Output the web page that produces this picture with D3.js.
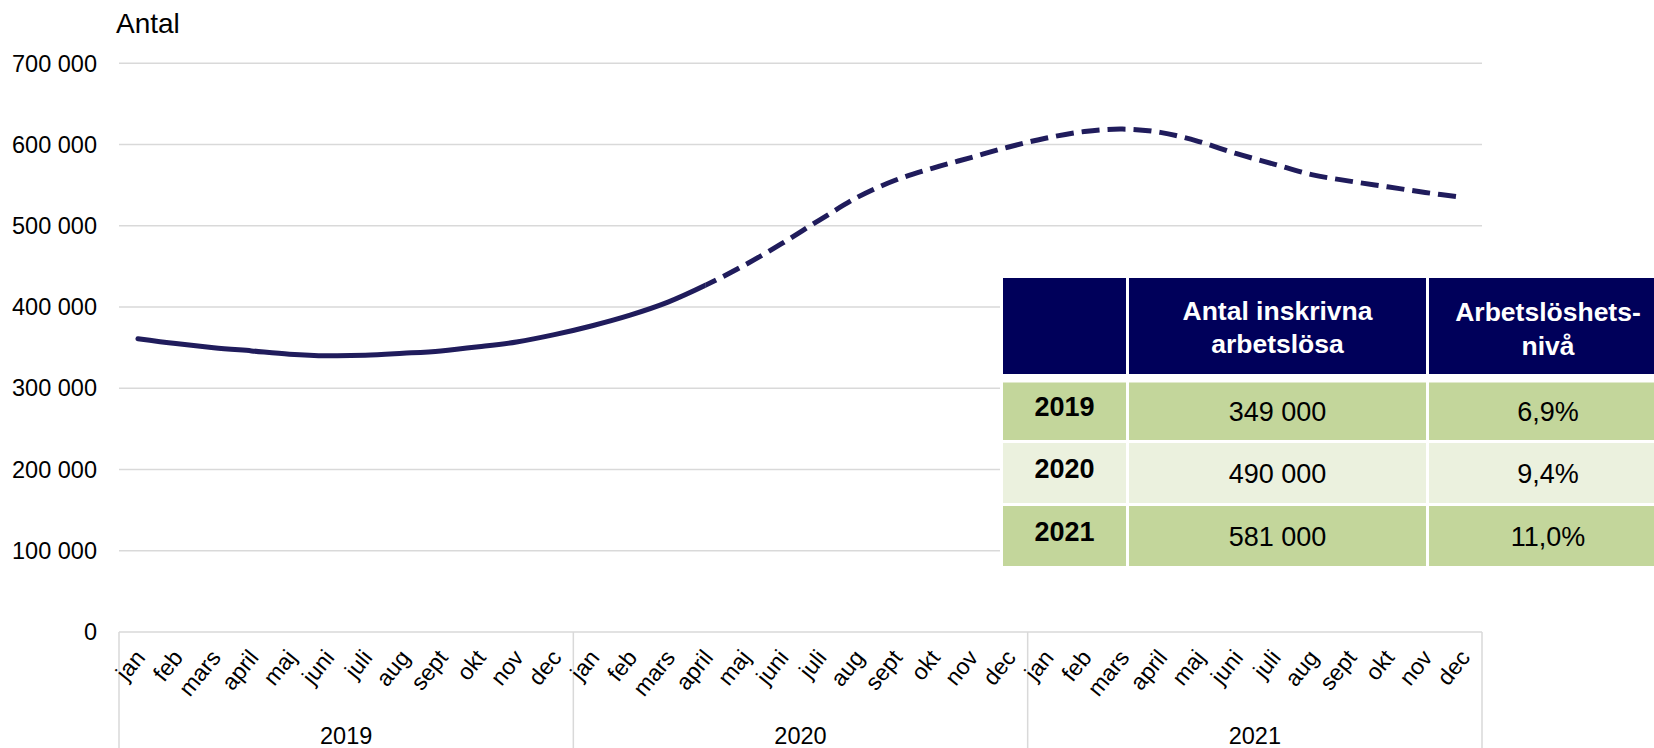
<!DOCTYPE html>
<html>
<head>
<meta charset="utf-8">
<script src="https://cdn.jsdelivr.net/npm/d3@7/dist/d3.min.js"></script>
<style>
  html, body { margin: 0; padding: 0; background: #fff; }
  svg { display: block; font-family: "Liberation Sans", Arial, sans-serif; }
</style>
</head>
<body>
<svg id="chart" width="1654" height="748"></svg>
<script>
// ---- data ----
const months = ["jan","feb","mars","april","maj","juni","juli","aug","sept","okt","nov","dec"];
const years = ["2019","2020","2021"];
const values2019 = [361000,355000,350000,346000,342000,340000,340500,343000,346000,351000,357000,366000];
const values2020 = [377000,390000,406000,427000,451000,478000,507000,535000,556000,571000,584000,597000];
const values2021 = [608000,616000,619000,615000,604000,589000,576000,563000,555000,548000,541000,535000];
const lastOutcomeIndex = 15; // april 2020: solid up to here, forecast dashed after
const yTicks = [0,100000,200000,300000,400000,500000,600000,700000];
const yTitle = "Antal";

const tableRowLabels = ["2019","2020","2021"];
const tableAntal = ["349 000","490 000","581 000"];
const tableNiva = ["6,9%","9,4%","11,0%"];
const tableHeader1 = ["Antal inskrivna","arbetslösa"];
const tableHeader2 = ["Arbetslöshets-","nivå"];

(function () {
const allValues = values2019.concat(values2020, values2021);
const points = allValues.map((v, i) => ({ i, v, year: years[Math.floor(i / 12)], month: months[i % 12] }));

const svg = d3.select("#chart");
const pL = 119, pR = 1482, pT = 63.3, pB = 632;

const x = d3.scaleBand().domain(d3.range(points.length)).range([pL, pR]).paddingInner(0).paddingOuter(0);
const y = d3.scaleLinear().domain([0, 700000]).range([pB, pT]);
const cx = i => x(i) + x.bandwidth() / 2;

const locale = d3.formatLocale({ decimal: ",", thousands: " ", grouping: [3], currency: ["", ""] });
const fmt = locale.format(",");

// gridlines
svg.append("g").selectAll("line").data(yTicks.filter(d => d > 0)).join("line")
  .attr("x1", pL).attr("x2", pR)
  .attr("y1", d => y(d)).attr("y2", d => y(d))
  .attr("stroke", "#d9d9d9").attr("stroke-width", 1.5);

// y tick labels
svg.append("g").selectAll("text").data(yTicks).join("text")
  .attr("x", 97).attr("y", d => y(d)).attr("dy", "0.35em")
  .attr("text-anchor", "end").attr("font-size", 23.5).attr("fill", "#000")
  .text(d => fmt(d));

// y title
svg.append("text").attr("x", 116).attr("y", 33).attr("font-size", 28).attr("fill", "#000").text(yTitle);

// x axis baseline and year separators
const axisG = svg.append("g");
axisG.append("line").attr("x1", pL).attr("x2", pR).attr("y1", pB).attr("y2", pB)
  .attr("stroke", "#d9d9d9").attr("stroke-width", 1.5);
const sepIdx = [0, 12, 24, 36];
axisG.selectAll("line.sep").data(sepIdx).join("line").attr("class", "sep")
  .attr("x1", d => d === 36 ? pR : x(d)).attr("x2", d => d === 36 ? pR : x(d))
  .attr("y1", pB).attr("y2", 748)
  .attr("stroke", "#d9d9d9").attr("stroke-width", 1.5);

// month labels
axisG.selectAll("text.month").data(points).join("text").attr("class", "month")
  .attr("transform", d => `translate(${cx(d.i) + 2},${pB + 21}) rotate(-51)`)
  .attr("text-anchor", "end").attr("dy", "0.35em")
  .attr("font-size", 23).attr("fill", "#000")
  .text(d => d.month);

// year labels
axisG.selectAll("text.year").data(years).join("text").attr("class", "year")
  .attr("x", (d, k) => (x(k * 12) + (k === 2 ? pR : x((k + 1) * 12))) / 2)
  .attr("y", 744).attr("text-anchor", "middle").attr("font-size", 23.5).attr("fill", "#000")
  .text(d => d);

// line
const defs = svg.append("defs");
const splitX = cx(lastOutcomeIndex);
defs.append("clipPath").attr("id", "clipSolid").append("rect")
  .attr("x", 0).attr("y", 0).attr("width", splitX).attr("height", 748);
defs.append("clipPath").attr("id", "clipDash").append("rect")
  .attr("x", splitX).attr("y", 0).attr("width", 1654 - splitX).attr("height", 748);

const line = d3.line().x(d => cx(d.i)).y(d => y(d.v)).curve(d3.curveCatmullRom.alpha(0));
const lineColor = "#201c5c";
svg.append("path").datum(points).attr("d", line)
  .attr("fill", "none").attr("stroke", lineColor).attr("stroke-width", 5)
  .attr("stroke-linecap", "round").attr("clip-path", "url(#clipSolid)");
svg.append("path").datum(points).attr("d", line)
  .attr("fill", "none").attr("stroke", lineColor).attr("stroke-width", 5)
  .attr("stroke-dasharray", "18,8").attr("clip-path", "url(#clipDash)");

// ---- table ----
const tg = svg.append("g");
const cols = [[1003, 1126], [1129, 1426], [1429, 1667]];
const rows = [[278, 374], [382.5, 440], [443, 503], [506, 566]];
tg.append("rect").attr("x", 1000).attr("y", 275).attr("width", 670).attr("height", 294).attr("fill", "#fff");
const header = "#00005a", green = "#c3d69b", lightGreen = "#ebf1de";
cols.forEach(c => {
  tg.append("rect").attr("x", c[0]).attr("y", rows[0][0]).attr("width", c[1] - c[0]).attr("height", rows[0][1] - rows[0][0]).attr("fill", header);
});
const colMid = c => (c[0] + c[1]) / 2;
[[tableHeader1, cols[1], 320, 353], [tableHeader2, cols[2], 321, 355]].forEach(([lines, c, b1, b2]) => {
  tg.append("text").attr("x", colMid(c)).attr("y", b1).attr("text-anchor", "middle")
    .attr("font-size", 26.5).attr("font-weight", "bold").attr("fill", "#fff").text(lines[0]);
  tg.append("text").attr("x", colMid(c)).attr("y", b2).attr("text-anchor", "middle")
    .attr("font-size", 26.5).attr("font-weight", "bold").attr("fill", "#fff").text(lines[1]);
});
tableRowLabels.forEach((lab, k) => {
  const r = rows[k + 1];
  const fill = k === 1 ? lightGreen : green;
  cols.forEach(c => {
    tg.append("rect").attr("x", c[0]).attr("y", r[0]).attr("width", c[1] - c[0]).attr("height", r[1] - r[0]).attr("fill", fill);
  });
  const mid = (r[0] + r[1]) / 2;
  tg.append("text").attr("x", colMid(cols[0])).attr("y", mid + 4.5).attr("text-anchor", "middle")
    .attr("font-size", 27).attr("font-weight", "bold").attr("fill", "#000").text(lab);
  tg.append("text").attr("x", colMid(cols[1])).attr("y", mid + 9.5).attr("text-anchor", "middle")
    .attr("font-size", 27).attr("fill", "#000").text(tableAntal[k]);
  tg.append("text").attr("x", colMid(cols[2])).attr("y", mid + 9.5).attr("text-anchor", "middle")
    .attr("font-size", 27).attr("fill", "#000").text(tableNiva[k]);
});
})();
</script>
</body>
</html>
